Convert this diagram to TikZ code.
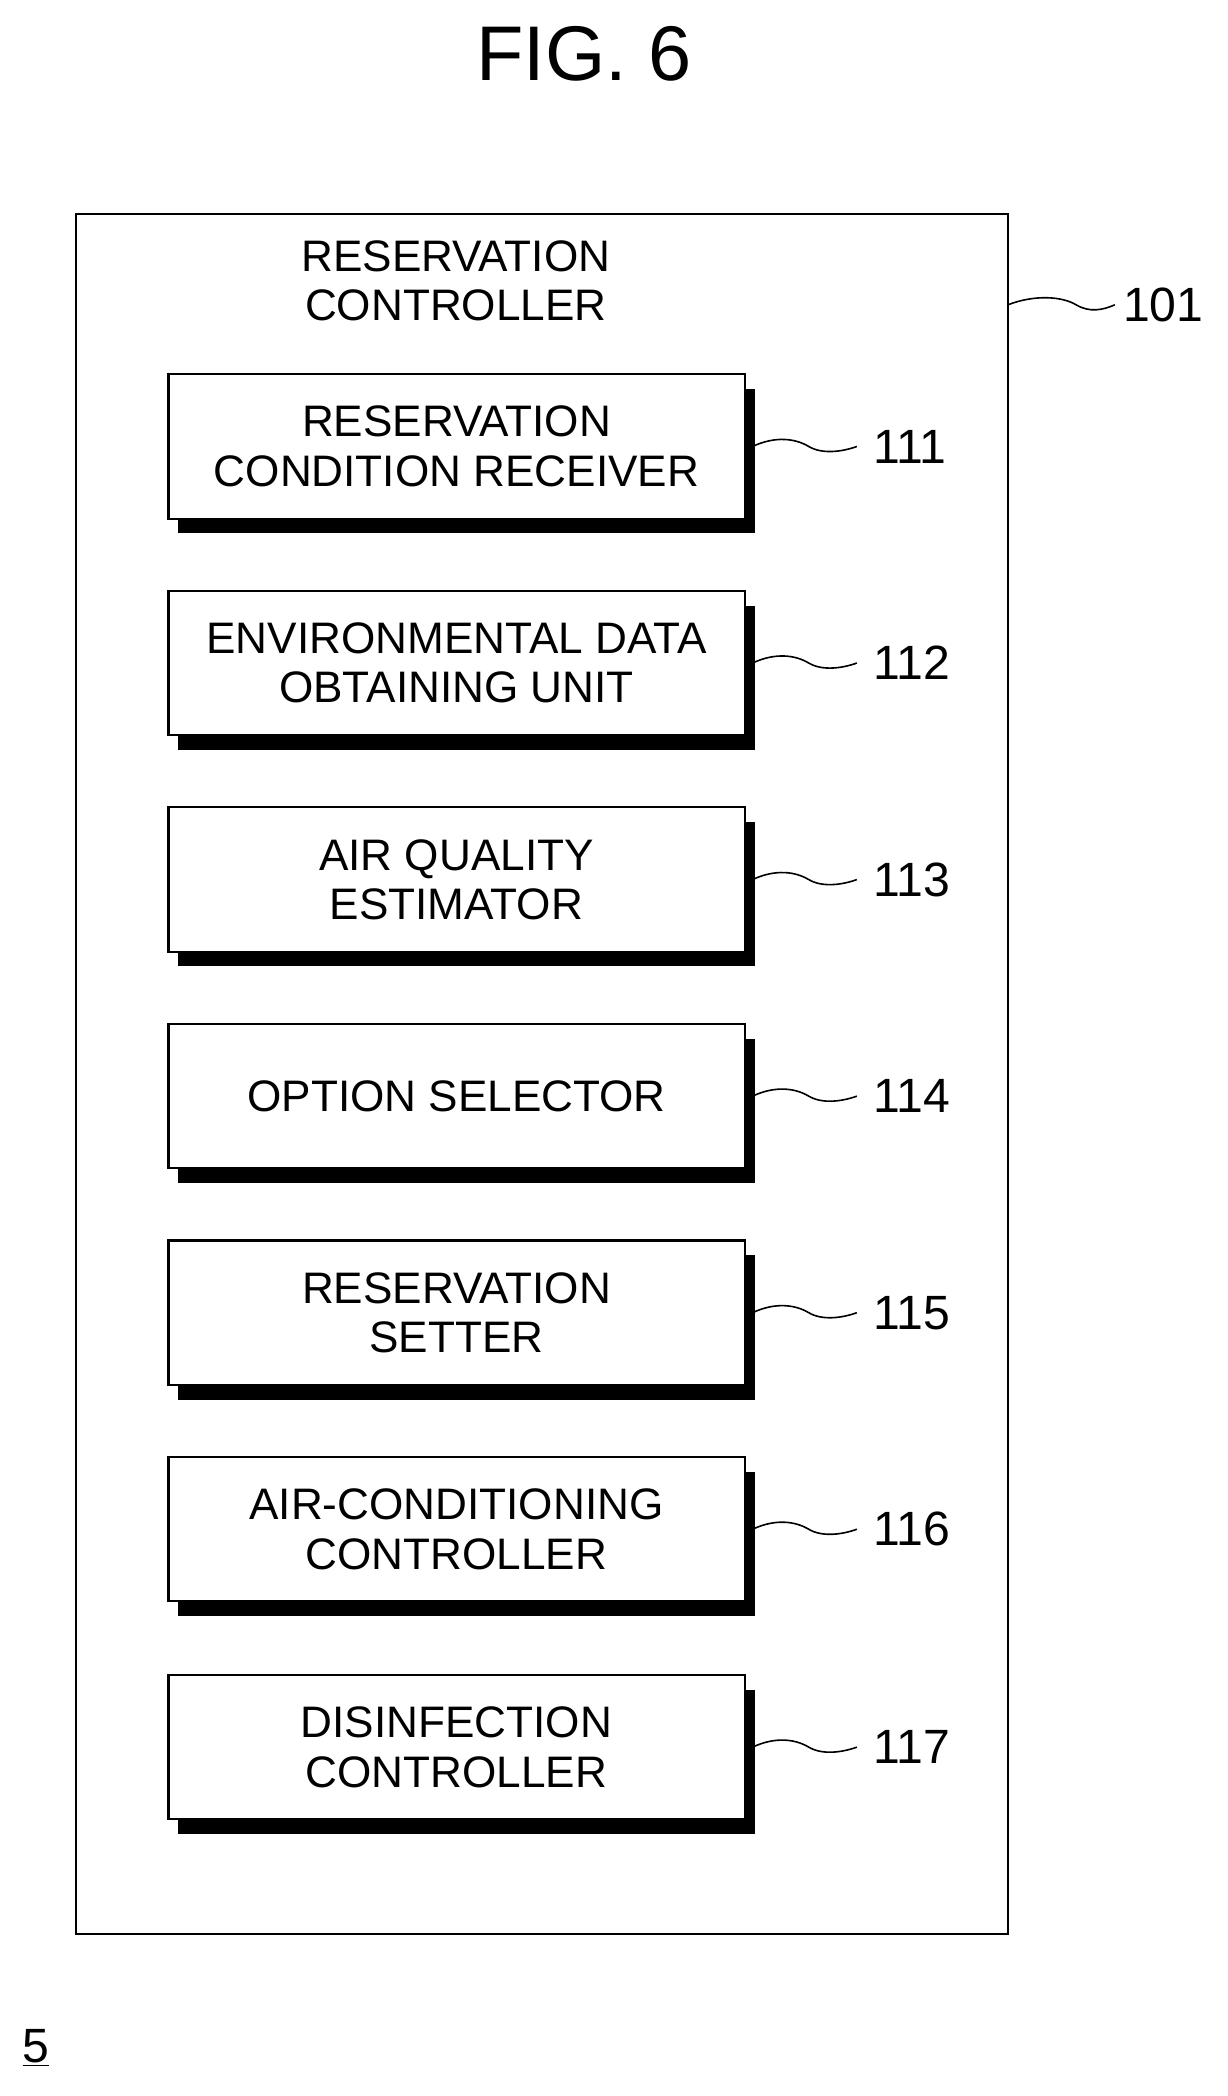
\documentclass[tikz,border=0pt]{standalone}
\usepackage{fontspec}
\setmainfont{Liberation Sans}
\begin{document}
\begin{tikzpicture}[x=1pt,y=-1pt,
  txt/.style={font=\fontsize{33}{37}\selectfont,align=center,inner sep=0},
  lab/.style={font=\fontsize{36}{40}\selectfont,anchor=west,inner sep=0},
  blk/.style={draw,line width=1.6pt,fill=white,minimum width=431pt,minimum height=108pt,inner sep=0},
  lead/.style={line width=1.2pt}]
\useasboundingbox (0,0) rectangle (918,1568);
\node[font=\fontsize{58}{60}\selectfont] (title) at (437,40) {FIG. 6};
\node[draw,line width=1.6pt,minimum width=697pt,minimum height=1287pt,inner sep=0] (outer) at (405.5,803.5) {};
\node[txt] (oc) at (341,210) {RESERVATION\\CONTROLLER};
\coordinate (o101) at (754,228);
\node[lab] (l101) at (840,228) {101};
\draw[lead] (o101) .. controls (775,220) and (795,222) .. (805,228) .. controls (815,234) and (825,232) .. ([xshift=-6pt]l101.west);
\foreach \n/\y/\t in {111/340/RESERVATION\\CONDITION RECEIVER,112/502/ENVIRONMENTAL DATA\\OBTAINING UNIT,113/664/AIR QUALITY\\ESTIMATOR,114/826/OPTION SELECTOR,115/988/RESERVATION\\SETTER,116/1150/AIR-CONDITIONING\\CONTROLLER,117/1313/DISINFECTION\\CONTROLLER}{
  \fill (347.5,\y) ++(-214,-49) rectangle ++(431,108);
  \node[blk] (b\n) at (341.5,\y-6) {};
  \node[txt] at (341.5,\y-6) {\t};
  \node[lab] (l\n) at (653,\y-6) {\n};
  \draw[lead] (563,\y-6) .. controls (580,\y-14) and (595,\y-12) .. (605,\y-6) .. controls (615,\y) and (630,\y-2) .. ([xshift=-12pt]l\n.west);
}
\node[font=\fontsize{36}{40}\selectfont,inner sep=0] (five) at (27,1532) {\underline{5}};
\end{tikzpicture}
\end{document}
